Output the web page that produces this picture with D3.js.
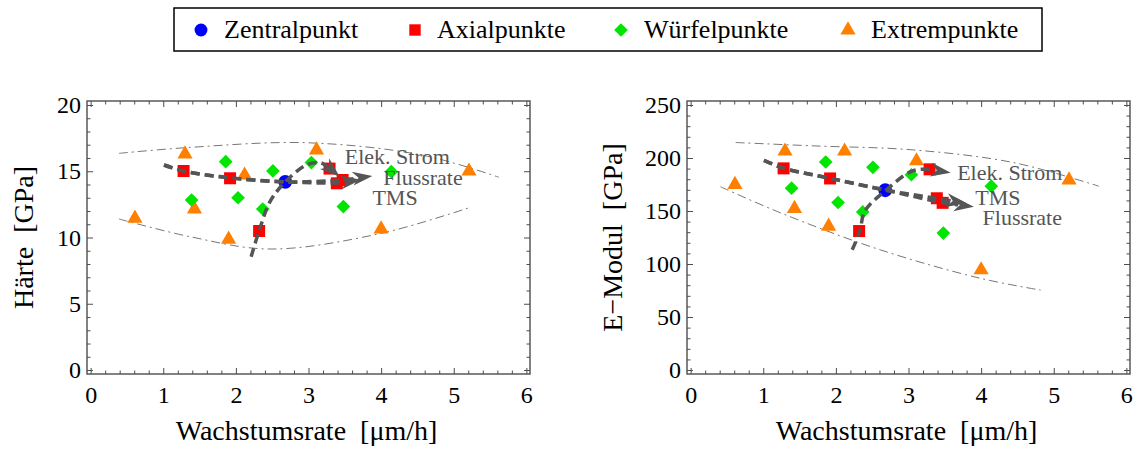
<!DOCTYPE html>
<html>
<head>
<meta charset="utf-8">
<script src="https://cdn.jsdelivr.net/npm/d3@7"></script>
<style>
  html, body { margin: 0; padding: 0; background: #fff; }
  svg text { font-family: "Liberation Serif", "Times New Roman", serif !important; }
</style>
</head>
<body>
<svg id="chart" width="1137" height="459"></svg>
<script>
// Wachstumsrate [µm/h] der Versuchspunkte
const rateZentral = [2.68];
const rateAxial   = [1.28, 1.92, 2.32, 3.29, 3.39, 3.47];
const rateWuerfel = [1.39, 1.86, 2.03, 2.37, 2.51, 3.04, 3.48, 4.14];
const rateExtrem  = [0.61, 1.30, 1.43, 1.90, 2.12, 3.11, 4.00, 5.21];

// Härte [GPa]
const haerteZentral = [14.2];
const haerteAxial   = [15.02, 14.47, 10.49, 15.2, 14.09, 14.34];
const haerteWuerfel = [12.83, 15.72, 13.0, 12.15, 15.02, 15.65, 12.33, 14.97];
const haerteExtrem  = [11.45, 16.3, 12.15, 9.86, 14.7, 16.6, 10.64, 15.0];

// E-Modul [GPa]
const modulZentral = [169.6];
const modulAxial   = [190.2, 180.7, 131.1, 189.3, 162.0, 157.7];
const modulWuerfel = [171.5, 196.2, 158.0, 149.1, 191.2, 184.2, 129.2, 173.4];
const modulExtrem  = [175.0, 206.4, 152.3, 135.5, 206.4, 197.2, 94.4, 179.1];

// Effektpfade der Parameter (Rate, Wert)
const pfadStromRateH = [2.21, 2.32, 2.47, 2.68, 2.97, 3.16, 3.30, 3.43];
const pfadStromH     = [8.55, 10.5, 12.7, 14.2, 15.47, 15.65, 15.2, 14.59];
const pfadFlussRateH = [1.01, 1.28, 1.92, 2.68, 3.47, 3.88];
const pfadFlussH     = [15.47, 15.02, 14.5, 14.2, 14.34, 14.64];
const pfadTmsRateH   = [1.01, 1.28, 1.92, 2.68, 3.39, 3.72];
const pfadTmsH       = [15.47, 15.02, 14.5, 14.2, 14.12, 14.35];

const pfadStromRateE = [2.225, 2.33, 2.40, 2.69, 3.05, 3.28, 3.58];
const pfadStromE     = [113.4, 131.1, 150.0, 169.6, 187.7, 189.3, 186.1];
const pfadFlussRateE = [1.01, 1.29, 1.93, 2.69, 3.48, 3.90];
const pfadFlussE     = [197.8, 190.2, 180.7, 169.6, 157.7, 153.9];
const pfadTmsRateE   = [1.01, 1.29, 1.93, 2.69, 3.38, 3.80];
const pfadTmsE       = [197.8, 190.2, 180.7, 169.6, 162.0, 157.2];

// Streubereich (Hüllkurven)
const huelleObenRateH  = [0.39, 1.37, 2.98, 4.58, 5.62];
const huelleObenH      = [16.35, 16.8, 17.15, 16.2, 14.55];
const huelleUntenRateH = [0.39, 1.37, 2.47, 3.99, 5.23];
const huelleUntenH     = [11.4, 10.06, 9.13, 10.3, 12.28];
const huelleObenRateE  = [0.62, 1.70, 3.07, 4.45, 5.62];
const huelleObenE      = [214.6, 211.4, 207.6, 195.6, 173.4];
const huelleUntenRateE = [0.41, 1.24, 2.61, 3.99, 4.82];
const huelleUntenE     = [172.9, 148.2, 113.4, 86.5, 75.4];

// Achsen
const xTicks = [0, 1, 2, 3, 4, 5, 6];
const yTicksH = [0, 5, 10, 15, 20];
const yTicksE = [0, 50, 100, 150, 200, 250];

const legendNames = ["Zentralpunkt", "Axialpunkte", "Würfelpunkte", "Extrempunkte"];
const effektNamen = ["Elek. Strom", "Flussrate", "TMS"];

const zip = (xs, ys) => xs.map((x, i) => [x, ys[i]]);

const svg = d3.select("#chart");
const col = { zentral: "#0000ff", axial: "#ff0000", wuerfel: "#00e600", extrem: "#ff8000" };
const grau = "#555555";
const serif = "'Liberation Serif', 'Times New Roman', serif";

function panel(opt) {
  const x = d3.scaleLinear().domain([-0.05, 6.05]).range([opt.left, opt.left + 443]);
  const y = d3.scaleLinear().domain(opt.yDomain).range([374, 101]);
  const g = svg.append("g");

  // Hüllkurven (Strich-Punkt)
  const glatt = d3.line().x(d => x(d[0])).y(d => y(d[1])).curve(d3.curveCatmullRom.alpha(0.5));
  opt.huellen.forEach(h => {
    g.append("path").attr("d", glatt(h)).attr("fill", "none")
      .attr("stroke", "#777").attr("stroke-width", 1)
      .attr("stroke-dasharray", "9,4,2,4");
  });

  // Versuchspunkte
  const sym = (type, size, fill, data) => {
    g.append("g").selectAll("path").data(data).join("path")
      .attr("transform", d => `translate(${x(d[0])},${y(d[1])})`)
      .attr("d", d3.symbol().type(type).size(size))
      .attr("fill", fill);
  };
  sym(d3.symbolTriangle, 100, col.extrem, opt.extrem);
  sym(d3.symbolDiamond2, 120, col.wuerfel, opt.wuerfel);
  sym(d3.symbolSquare, 144, col.axial, opt.axial);
  sym(d3.symbolCircle, 150, col.zentral, opt.zentral);

  // Effektpfade mit Pfeilspitzen
  opt.pfade.forEach(p => {
    const pts = p.map(d => [x(d[0]), y(d[1])]);
    const n = pts.length;
    const tip = pts[n - 1], prev = pts[n - 2];
    const ang = Math.atan2(tip[1] - prev[1], tip[0] - prev[0]);
    const L = 20, W = 7;
    const base = [tip[0] - L * 0.8 * Math.cos(ang), tip[1] - L * 0.8 * Math.sin(ang)];
    const linePts = pts.slice(0, n - 1).concat([base]);
    g.append("path")
      .attr("d", d3.line().curve(d3.curveCatmullRom.alpha(0.5))(linePts))
      .attr("fill", "none").attr("stroke", grau).attr("stroke-width", 3.5)
      .attr("stroke-dasharray", "9,5");
    const head = `M0,0 L${-L},${-W} L${-L * 0.7},0 L${-L},${W} Z`;
    g.append("path").attr("d", head).attr("fill", grau)
      .attr("transform", `translate(${tip[0]},${tip[1]}) rotate(${ang * 180 / Math.PI})`);
  });

  // Beschriftung der Pfade
  opt.labels.forEach(l => {
    g.append("text").attr("x", x(l.x)).attr("y", y(l.y)).text(l.t)
      .style("font-family", serif).attr("font-size", 22).attr("fill", grau);
  });

  // Rahmen
  g.append("rect").attr("x", opt.left).attr("y", 101).attr("width", 443).attr("height", 273)
    .attr("fill", "none").attr("stroke", "#4d4d4d").attr("stroke-width", 1.4);

  const xMinor = d3.range(0, 6.001, 0.2).map(v => +v.toFixed(1)).filter(v => !xTicks.includes(v));
  const yMinor = d3.range(0, opt.yMax + 0.001, opt.yMinorStep).filter(v => !opt.yTicks.includes(v));

  const tickStyle = sel => {
    sel.select(".domain").remove();
    sel.attr("font-family", null);
    sel.selectAll("line").attr("stroke", "#4d4d4d").attr("stroke-width", 1);
    sel.selectAll("text").attr("font-size", 24).attr("fill", "#000").style("font-family", serif);
  };

  // untere Achse mit Beschriftung
  g.append("g").attr("transform", "translate(0,374)")
    .call(d3.axisBottom(x).tickValues(xTicks).tickFormat(d3.format("d")).tickSize(-6).tickPadding(12))
    .call(tickStyle);
  g.append("g").attr("transform", "translate(0,374)")
    .call(d3.axisBottom(x).tickValues(xMinor).tickFormat("").tickSize(-3.5)).call(tickStyle);
  // obere Achse
  g.append("g").attr("transform", "translate(0,101)")
    .call(d3.axisTop(x).tickValues(xTicks).tickFormat("").tickSize(-6)).call(tickStyle);
  g.append("g").attr("transform", "translate(0,101)")
    .call(d3.axisTop(x).tickValues(xMinor).tickFormat("").tickSize(-3.5)).call(tickStyle);
  // linke Achse mit Beschriftung
  g.append("g").attr("transform", `translate(${opt.left},0)`)
    .call(d3.axisLeft(y).tickValues(opt.yTicks).tickFormat(d3.format("d")).tickSize(-6).tickPadding(6))
    .call(tickStyle);
  g.append("g").attr("transform", `translate(${opt.left},0)`)
    .call(d3.axisLeft(y).tickValues(yMinor).tickFormat("").tickSize(-3.5)).call(tickStyle);
  // rechte Achse
  g.append("g").attr("transform", `translate(${opt.left + 443},0)`)
    .call(d3.axisRight(y).tickValues(opt.yTicks).tickFormat("").tickSize(-6)).call(tickStyle);
  g.append("g").attr("transform", `translate(${opt.left + 443},0)`)
    .call(d3.axisRight(y).tickValues(yMinor).tickFormat("").tickSize(-3.5)).call(tickStyle);

  // Achsentitel
  g.append("text").attr("x", x(3) - 2).attr("y", 440).attr("text-anchor", "middle")
    .style("font-family", serif).attr("font-size", 28).style("white-space", "pre")
    .text("Wachstumsrate  [\u03bcm/h]");
  g.append("text")
    .attr("transform", `translate(${opt.titleX},${(101 + 374) / 2}) rotate(-90)`)
    .attr("text-anchor", "middle").style("font-family", serif).attr("font-size", 28)
    .style("white-space", "pre")
    .text(opt.title);
}

panel({
  left: 87, yDomain: [-0.3, 20.3], yMax: 20, yTicks: yTicksH, yMinorStep: 1,
  title: "Härte  [GPa]", titleX: 33,
  zentral: zip(rateZentral, haerteZentral),
  axial: zip(rateAxial, haerteAxial),
  wuerfel: zip(rateWuerfel, haerteWuerfel),
  extrem: zip(rateExtrem, haerteExtrem),
  huellen: [zip(huelleObenRateH, huelleObenH), zip(huelleUntenRateH, huelleUntenH)],
  pfade: [zip(pfadStromRateH, pfadStromH), zip(pfadFlussRateH, pfadFlussH), zip(pfadTmsRateH, pfadTmsH)],
  labels: [
    { t: effektNamen[0], x: 3.50, y: 15.55 },
    { t: effektNamen[1], x: 4.03, y: 13.96 },
    { t: effektNamen[2], x: 3.88, y: 12.45 }
  ]
});

panel({
  left: 687, yDomain: [-3.75, 253.75], yMax: 250, yTicks: yTicksE, yMinorStep: 10,
  title: "E\u2212Modul  [GPa]", titleX: 622,
  zentral: zip(rateZentral, modulZentral),
  axial: zip(rateAxial, modulAxial),
  wuerfel: zip(rateWuerfel, modulWuerfel),
  extrem: zip(rateExtrem, modulExtrem),
  huellen: [zip(huelleObenRateE, huelleObenE), zip(huelleUntenRateE, huelleUntenE)],
  pfade: [zip(pfadStromRateE, pfadStromE), zip(pfadFlussRateE, pfadFlussE), zip(pfadTmsRateE, pfadTmsE)],
  labels: [
    { t: effektNamen[0], x: 3.67, y: 178.8 },
    { t: effektNamen[1], x: 4.02, y: 137.1 },
    { t: effektNamen[2], x: 3.92, y: 156.1 }
  ]
});

// Legende
const leg = svg.append("g");
leg.append("rect").attr("x", 174).attr("y", 8).attr("width", 868).attr("height", 43)
  .attr("fill", "#fff").attr("stroke", "#000").attr("stroke-width", 1.5);
const legSym = [d3.symbolCircle, d3.symbolSquare, d3.symbolDiamond2, d3.symbolTriangle];
const legCol = [col.zentral, col.axial, col.wuerfel, col.extrem];
const legSize = [130, 130, 120, 100];
const legSymX = [201, 415, 621, 848];
const legTextX = [224, 437, 644, 871];
legendNames.forEach((n, i) => {
  leg.append("path").attr("transform", `translate(${legSymX[i]},30)`)
    .attr("d", d3.symbol().type(legSym[i]).size(legSize[i])).attr("fill", legCol[i]);
  leg.append("text").attr("x", legTextX[i]).attr("y", 38).style("font-family", serif)
    .attr("font-size", 26).text(n);
});
</script>
</body>
</html>
